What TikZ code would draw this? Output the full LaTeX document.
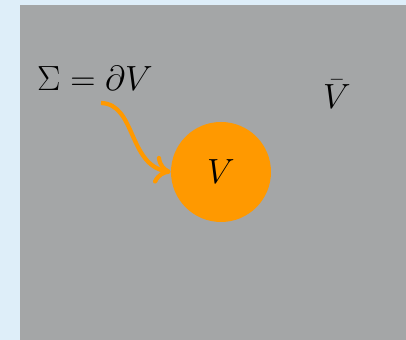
\documentclass[tikz,border=0pt]{standalone}
\usetikzlibrary{arrows.meta}
\definecolor{slidebg}{RGB}{222,238,249}
\definecolor{panel}{RGB}{164,166,167}
\definecolor{vorange}{RGB}{255,153,0}
\begin{document}
\begin{tikzpicture}[x=1cm, y=1cm,
  lab/.style={font=\fontsize{28.5}{34}\selectfont, inner sep=0pt},
  ball/.style={circle, fill=vorange, minimum size=2.5cm, inner sep=0pt,
               font=\fontsize{28.5}{34}\selectfont},
  bd/.style={-{To[length=4mm, width=7mm]}, line width=3pt, vorange}]
\fill[slidebg] (0,0) rectangle (10.15,8.5);
\fill[panel] (0.5,0) rectangle (10.15,8.375);
\node[ball] (vol)  at (5.525,4.2)  {$V$};
\node[lab]  (bdry) at (2.375,6.55) {$\Sigma = \partial V$};
\node[lab]  (comp) at (8.425,6.15) {$\bar{V}$};
\coordinate (tail) at (2.525,5.925);
\draw[bd] (tail) .. controls (3.4,5.9) and (3.2,4.375) .. (vol.west);
\end{tikzpicture}
\end{document}
